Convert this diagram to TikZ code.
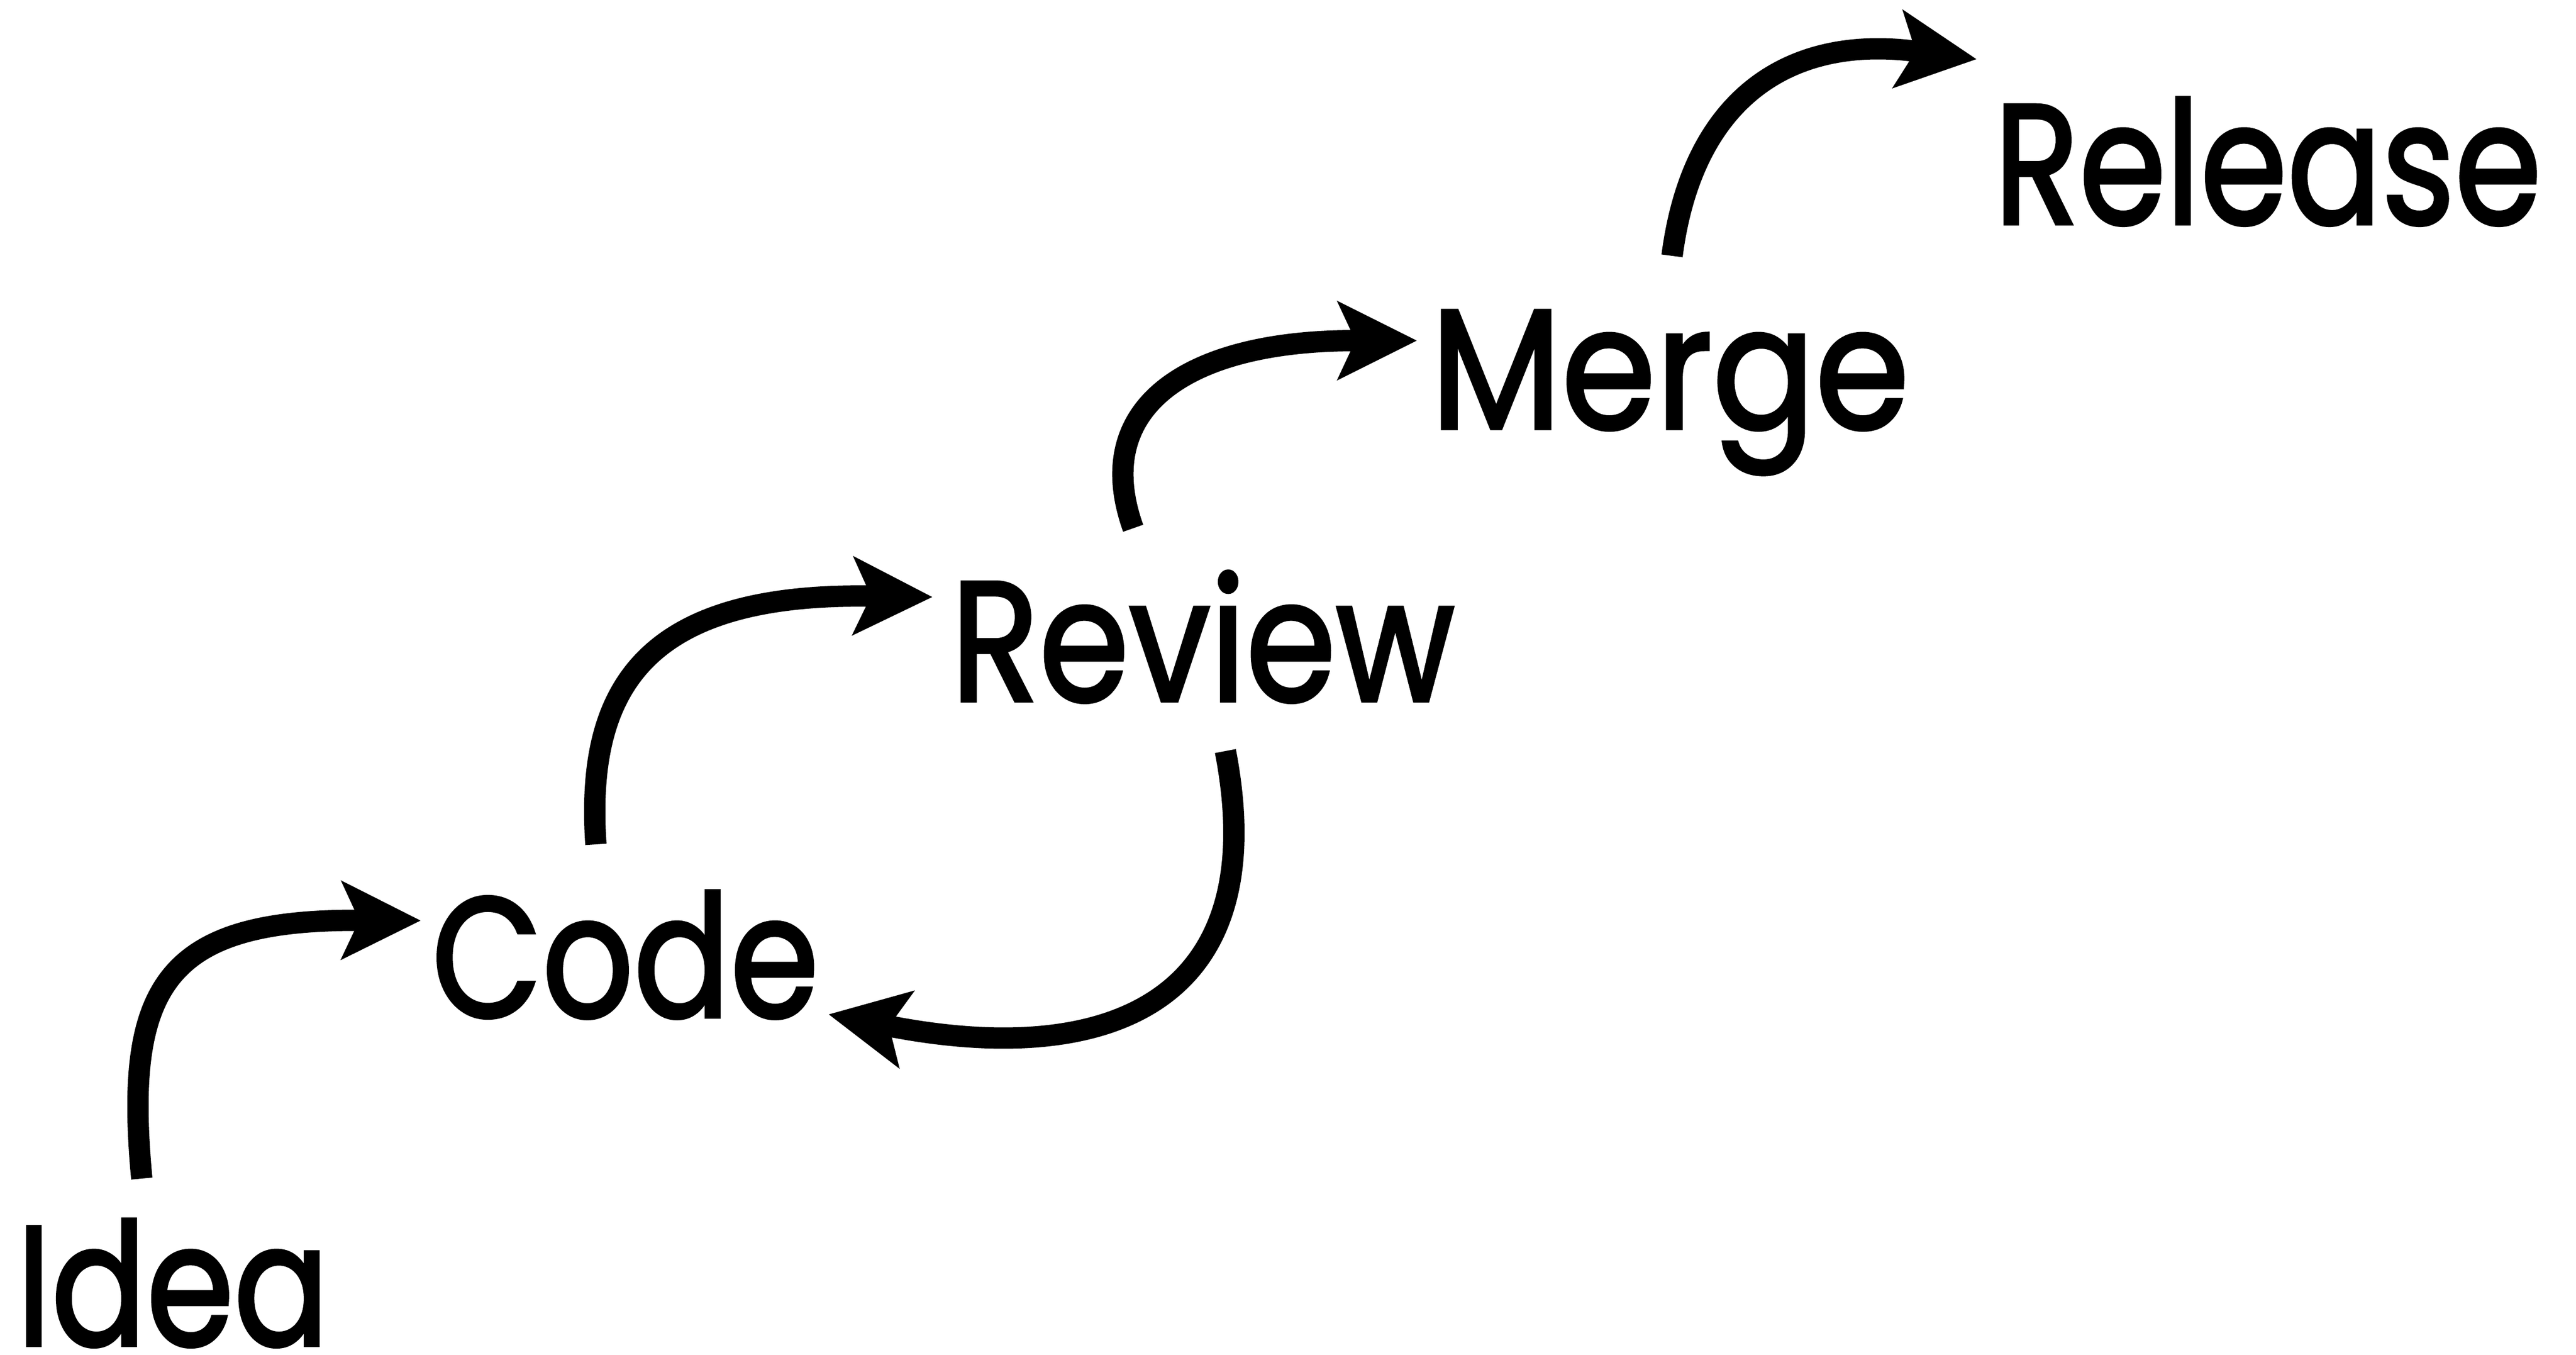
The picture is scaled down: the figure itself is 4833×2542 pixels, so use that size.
\documentclass[tikz,border=0pt]{standalone}
\usepackage{fontspec}
\setmainfont{Poppins}
\newfontfamily\lblfont{Poppins}[FakeBold=2]
\usetikzlibrary{arrows.meta}
\begin{document}
\begin{tikzpicture}[x=1pt,y=-1pt,
  lbl/.style={anchor=base west, inner sep=0pt, font=\lblfont\fontsize{320}{380}\selectfont},
  flow/.style={line width=40pt, -{Stealth[length=150pt,width=150pt,inset=35pt,line width=0pt]}}]
\useasboundingbox (0,0) rectangle (4833,2542);
% labels
\node[lbl] (idea)    at (31,2524)   {\resizebox{586pt}{\height}{Idea}};
\node[lbl] (code)    at (810,1908)  {\resizebox{726pt}{\height}{Code}};
\node[lbl] (review)  at (1784,1315) {\resizebox{945pt}{\height}{Review}};
\node[lbl] (merge)   at (2684,804)  {\resizebox{898pt}{\height}{Merge}};
\node[lbl] (release) at (3741,420)  {\resizebox{1027pt}{\height}{Release}};
% connector ends
\coordinate (t1) at (266,2211);  \coordinate (h1) at (789,1727);
\coordinate (t2) at (1118,1584); \coordinate (h2) at (1749,1120);
\coordinate (t3) at (2299,1409); \coordinate (h3) at (1555,1903);
\coordinate (t4) at (2126,991);  \coordinate (h4) at (2658,639);
\coordinate (t5) at (3137,480);  \coordinate (h5) at (3708,111);
% connectors
\draw[flow] (t1) .. controls (232,1850) and (310,1725) .. (h1);
\draw[flow] (t2) .. controls (1098,1290) and (1210,1112) .. (h2);
\draw[flow] (t3) .. controls (2390,1880) and (2080,2005) .. (h3);
\draw[flow] (t4) .. controls (2045,765) and (2225,639) .. (h4);
\draw[flow] (t5) .. controls (3176,180) and (3361,66) .. (h5);
\end{tikzpicture}
\end{document}
